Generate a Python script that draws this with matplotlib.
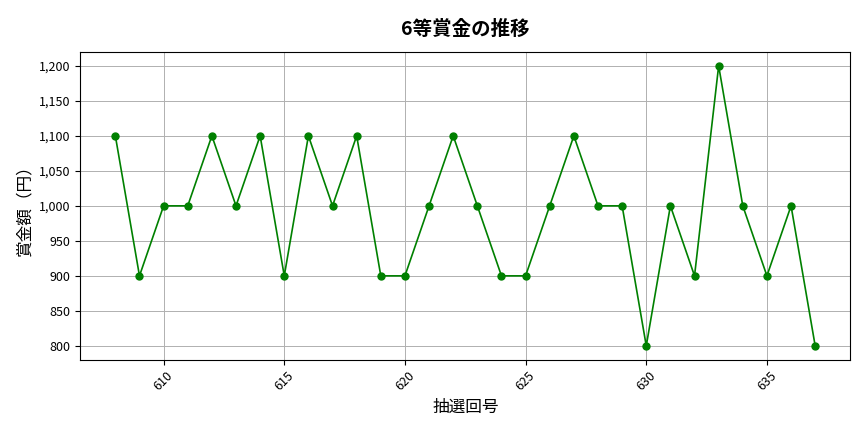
import matplotlib
matplotlib.use("Agg")
import matplotlib.pyplot as plt
from matplotlib.ticker import FuncFormatter

plt.rcParams['font.family'] = ['Noto Sans CJK JP', 'DejaVu Sans']

draws = list(range(608, 638))
prizes = [1100, 900, 1000, 1000, 1100, 1000, 1100, 900, 1100, 1000,
          1100, 900, 900, 1000, 1100, 1000, 900, 900, 1000, 1100,
          1000, 1000, 800, 1000, 900, 1200, 1000, 900, 1000, 800]

fig, ax = plt.subplots(figsize=(8.64, 4.32), dpi=100)
ax.plot(draws, prizes, color='green', marker='o', markersize=5, linewidth=1.2)

ax.set_title('6等賞金の推移', fontsize=14, fontweight='bold', pad=12)
ax.set_xlabel('抽選回号', fontsize=12)
ax.set_ylabel('賞金額（円）', fontsize=12)
ax.yaxis.set_major_formatter(FuncFormatter(lambda v, p: f'{int(v):,}'))
ax.grid(True, color='#b0b0b0', linewidth=0.7)
ax.tick_params(axis='x', labelrotation=45, labelsize=9)
ax.tick_params(axis='y', labelsize=9)

fig.subplots_adjust(left=0.093, right=0.984, top=0.88, bottom=0.167)
fig.savefig('out.png')
